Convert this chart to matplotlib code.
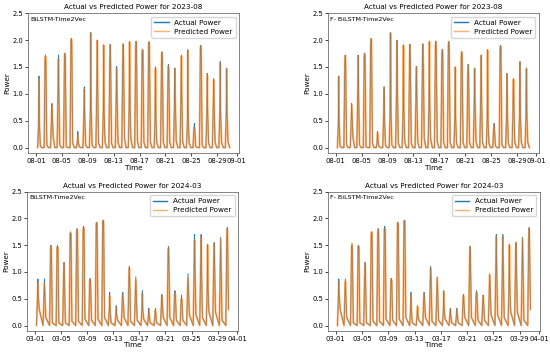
import numpy as np
import pandas as pd
import matplotlib
matplotlib.use('Agg')
import matplotlib.pyplot as plt
import matplotlib.dates as mdates
# ------------------------------------------------------------------------
# daily values (peak, dip inside the spike, evening tail)
aug_peak = [1.33, 1.72, 0.82, 1.72, 1.75, 2.03, 0.30, 1.13, 2.14, 2.00,
            1.91, 1.92, 1.51, 1.93, 1.97, 1.98, 1.83, 1.97, 1.50, 1.78,
            1.55, 1.48, 1.72, 1.82, 0.45, 1.90, 1.38, 1.28, 1.60, 1.48]
aug_mid = [0.45, 1.60, 0.60, 1.02, 1.70, 1.95, 0.12, 0.62, 0.70, 1.15,
           0.67, 1.62, 0.97, 1.62, 0.80, 1.90, 1.75, 1.90, 0.55, 1.70,
           1.37, 0.85, 0.95, 0.53, 0.35, 1.85, 0.65, 0.82, 0.65, 0.65]
aug_tail = [0.03, 0.05, 0.18, 0.05, 0.02, 0.08, 0.02, 0.05, 0.05, 0.08,
            0.10, 0.08, 0.10, 0.17, 0.15, 0.12, 0.10, 0.10, 0.08, 0.10,
            0.10, 0.12, 0.10, 0.08, 0.03, 0.05, 0.08, 0.10, 0.10, 0.10]
aug_pred_bilstm = [1.27, 1.70, 0.78, 1.65, 1.75, 2.02, 0.22, 1.09, 2.12, 1.99,
                   1.90, 1.90, 1.47, 1.92, 1.96, 1.97, 1.82, 1.96, 1.47, 1.77,
                   1.52, 1.46, 1.70, 1.80, 0.38, 1.89, 1.35, 1.25, 1.57, 1.46]
aug_pred_fbilstm = [1.32, 1.71, 0.80, 1.70, 1.75, 2.02, 0.27, 1.12, 2.13, 1.98,
                    1.90, 1.91, 1.50, 1.92, 1.97, 1.97, 1.82, 1.97, 1.49, 1.78,
                    1.54, 1.47, 1.71, 1.81, 0.42, 1.89, 1.37, 1.27, 1.59, 1.47]
aug_ticks = ['2023-08-01', '2023-08-05', '2023-08-09', '2023-08-13', '2023-08-17',
             '2023-08-21', '2023-08-25', '2023-08-29', '2023-09-01']

mar_peak = [0.87, 0.87, 1.50, 1.50, 1.18, 1.75, 1.81, 1.85, 0.88, 1.93,
            1.97, 0.62, 0.37, 0.62, 1.10, 0.91, 0.65, 0.32, 0.32, 0.58,
            1.48, 0.65, 0.57, 0.97, 1.70, 1.70, 1.52, 1.55, 1.65, 1.83]
mar_mid = [0.55, 0.60, 1.45, 1.45, 0.93, 1.70, 1.75, 1.80, 0.85, 1.90,
           1.95, 0.30, 0.20, 0.50, 0.85, 0.66, 0.30, 0.20, 0.20, 0.45,
           1.25, 0.58, 0.45, 0.72, 1.10, 1.10, 0.70, 1.20, 1.15, 1.63]
mar_tail = [0.30, 0.15, 0.05, 0.05, 0.05, 0.08, 0.08, 0.12, 0.10, 0.12,
            0.15, 0.05, 0.10, 0.15, 0.08, 0.10, 0.12, 0.05, 0.05, 0.15,
            0.15, 0.10, 0.10, 0.20, 0.20, 0.15, 0.25, 0.25, 0.10, 0.30]
mar_pred_bilstm = [0.80, 0.80, 1.47, 1.47, 1.15, 1.73, 1.80, 1.83, 0.85, 1.92,
                   1.96, 0.55, 0.33, 0.58, 1.07, 0.85, 0.60, 0.28, 0.28, 0.55,
                   1.45, 0.60, 0.50, 0.88, 1.60, 1.65, 1.50, 1.52, 1.62, 1.80]
mar_pred_fbilstm = [0.82, 0.82, 1.53, 1.49, 1.16, 1.75, 1.80, 1.79, 0.86, 1.91,
                    1.96, 0.58, 0.35, 0.60, 1.07, 0.88, 0.62, 0.30, 0.30, 0.56,
                    1.48, 0.62, 0.55, 0.94, 1.66, 1.67, 1.50, 1.55, 1.63, 1.80]
mar_ticks = ['2024-03-01', '2024-03-05', '2024-03-09', '2024-03-13', '2024-03-17',
             '2024-03-21', '2024-03-25', '2024-03-29', '2024-04-01']

# sample hours within each day
aug_hours = [6, 9.5, 11, 12.5, 16, 22]
mar_hours = [6, 9.5, 11, 12.5, 16]
# ------------------------------------------------------------------------
def build_series(start, hours, peak, mid, tail):
    t, v = [], []
    for i in range(len(peak)):
        day = pd.Timestamp(start) + pd.Timedelta(days=i)
        vals = [0.0, mid[i], peak[i], mid[i], tail[i], 0.0][:len(hours)]
        for h, y in zip(hours, vals):
            t.append(day + pd.Timedelta(hours=h))
            v.append(y)
    return pd.Series(v, index=pd.DatetimeIndex(t))

panels = [
    ('2023-08', 'BiLSTM-Time2Vec', '2023-08-01', aug_hours, aug_peak, aug_mid, aug_tail, aug_pred_bilstm, aug_ticks),
    ('2023-08', 'F- BiLSTM-Time2Vec', '2023-08-01', aug_hours, aug_peak, aug_mid, aug_tail, aug_pred_fbilstm, aug_ticks),
    ('2024-03', 'BiLSTM-Time2Vec', '2024-03-01', mar_hours, mar_peak, mar_mid, mar_tail, mar_pred_bilstm, mar_ticks),
    ('2024-03', 'F- BiLSTM-Time2Vec', '2024-03-01', mar_hours, mar_peak, mar_mid, mar_tail, mar_pred_fbilstm, mar_ticks),
]

boxes = [[0.051, 0.569, 0.384, 0.394],
         [0.596, 0.569, 0.384, 0.394],
         [0.049, 0.068, 0.384, 0.392],
         [0.596, 0.068, 0.386, 0.392]]
# ------------------------------------------------------------------------
fig = plt.figure(figsize=(5.5, 3.55), dpi=100)

for (month, name, start, hours, peak, mid, tail, pred, ticks), box in zip(panels, boxes):
    ax = fig.add_axes(box)
    actual = build_series(start, hours, peak, mid, tail)
    predicted = build_series(start, hours, pred, mid, tail)

    ax.plot(actual.index, actual.values, color='#1f77b4', lw=0.6, label='Actual Power')
    ax.plot(predicted.index, predicted.values, color='#ff7f0e', lw=1.4, alpha=0.6,
            label='Predicted Power')

    ax.set_ylim(-0.1, 2.5)
    ax.set_yticks([0.0, 0.5, 1.0, 1.5, 2.0, 2.5])
    ax.set_xticks(pd.to_datetime(ticks))
    ax.xaxis.set_major_formatter(mdates.DateFormatter('%m-%d'))
    ax.tick_params(labelsize=4.9, length=2, width=0.5, pad=1.5)
    for s in ax.spines.values():
        s.set_linewidth(0.5)
        s.set_color('#555555')

    ax.set_title('Actual vs Predicted Power for ' + month, fontsize=5.2, pad=3)
    ax.set_xlabel('Time', fontsize=5.2, labelpad=0.5)
    ax.set_ylabel('Power', fontsize=5.2, labelpad=1.5)
    ax.text(0.01, 0.975, name, transform=ax.transAxes, fontsize=4.6, va='top', ha='left')
    leg = ax.legend(loc='upper right', fontsize=5.2, frameon=True, handlelength=2.0,
                    borderpad=0.4, labelspacing=0.4, framealpha=0.8)
    for h in leg.get_lines():
        h.set_linewidth(1.0)

plt.savefig('out.png', dpi=100)
